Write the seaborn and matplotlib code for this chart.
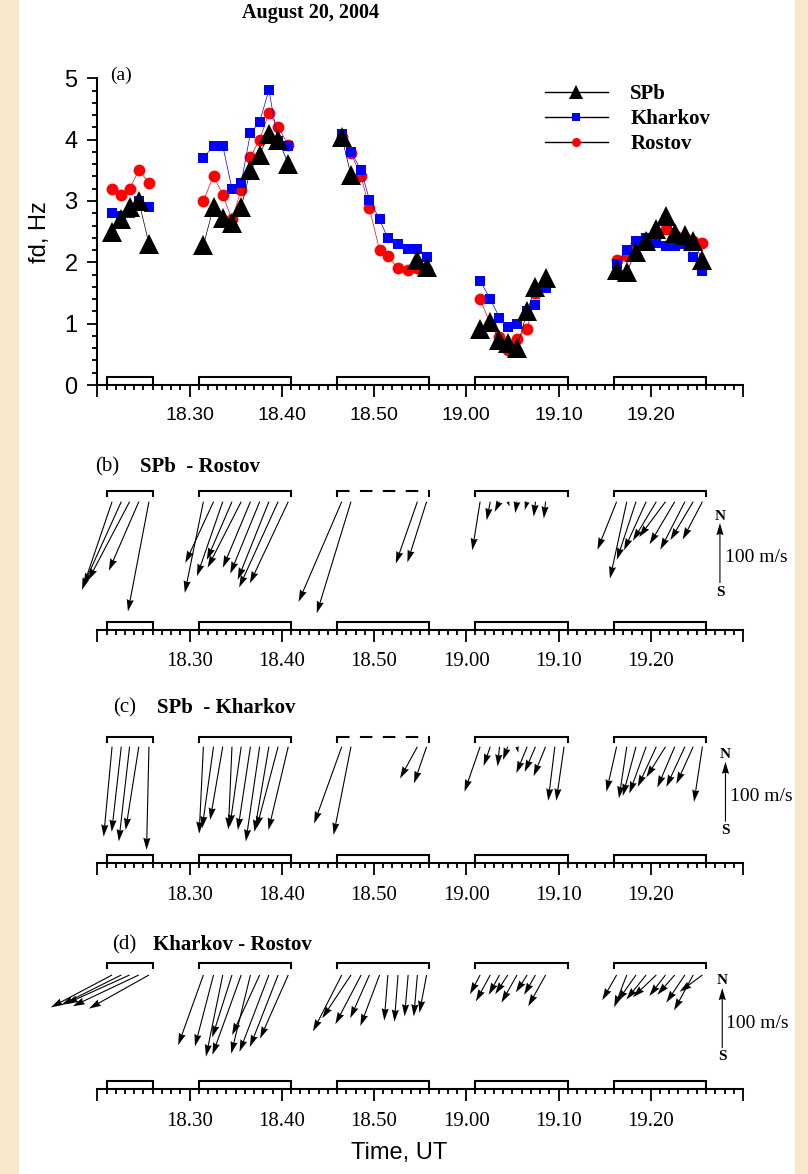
import matplotlib

matplotlib.use("Agg")
import matplotlib.pyplot as plt
import numpy as np
import pandas as pd
import seaborn as sns
from matplotlib.lines import Line2D
from matplotlib.patches import Rectangle
from matplotlib.ticker import FuncFormatter, MultipleLocator

nan = np.nan

# sounding times, minutes after 18:00 UT (five sessions)
TIME = [21.6, 22.6, 23.5, 24.5, 25.6,
        31.5, 32.6, 33.6, 34.6, 35.6, 36.6, 37.6, 38.6, 39.6, 40.7,
        46.5, 47.5, 48.6, 49.5, 50.6, 51.5, 52.6, 53.7, 54.7, 55.7,
        61.5, 62.6, 63.6, 64.5, 65.5, 66.6, 67.5, 68.6, 69.6, 70.6,
        76.3, 77.4, 78.4, 79.5, 80.6, 81.6, 82.6, 83.7, 84.6, 85.6]
SESSIONS = [(21, 26), (31, 41), (46, 56), (61, 71), (76, 86)]

# Doppler shift fd, Hz
FD_SPB = [2.5, 2.7, 2.9, 3.0, 2.3,
          2.28, 2.9, 2.72, 2.64, 2.9, 3.5, 3.75, 4.1, 4.0, 3.61,
          4.05, 3.42, nan, nan, nan, nan, nan, nan, 2.04, 1.93,
          0.92, 1.03, 0.73, 0.68, 0.61, 1.2, 1.6, 1.74, nan, nan,
          1.88, 1.85, 2.17, 2.34, 2.55, 2.75, 2.47, 2.45, 2.34, 2.04]
FD_KHARKOV = [2.8, 2.75, 2.8, 3.0, 2.9,
              3.7, 3.9, 3.9, 3.2, 3.29, 4.11, 4.29, 4.81, 3.97, 3.9,
              4.1, 3.8, 3.5, 3.02, 2.7, 2.39, 2.3, 2.21, 2.21, 2.09,
              1.7, 1.4, 1.1, 0.95, 1.0, 1.2, 1.3, 1.58, nan, nan,
              1.98, 2.2, 2.34, 2.4, 2.32, 2.27, 2.26, 2.3, 2.08, 1.86]
FD_ROSTOV = [3.2, 3.1, 3.2, 3.5, 3.3,
             3.0, 3.41, 3.1, 2.7, 3.18, 3.72, 4.0, 4.43, 4.21, 3.91,
             4.05, 3.78, 3.4, 2.88, 2.2, 2.1, 1.9, 1.88, 1.9, 1.88,
             1.4, 1.0, 0.79, 0.57, 0.75, 0.91, 1.5, 1.65, nan, nan,
             2.04, 2.1, 2.3, 2.4, 2.45, 2.55, 2.45, 2.4, 2.35, 2.31]

# drift velocity (east, north components), m/s
U_SR = [-50, -63, -69, -50, -35,
        -31, -47, -43, -42, -56, -46, -49, -52, -65, -64,
        -72, -57, nan, nan, nan, nan, nan, nan, -36, -32,
        -13, -6, -8, 3, -3, -4, -3, -3, nan, nan,
        -32, -28, -32, -37, -39, -44, -42, -41, -38, -33]
V_SR = [-147, -139, -131, -115, -183,
        -152, -102, -124, -97, -110, -110, -120, -130, -143, -136,
        -167, -186, nan, nan, nan, nan, nan, nan, -103, -101,
        -81, -31, -17, -8, -19, -14, -25, -28, nan, nan,
        -80, -128, -97, -81, -65, -59, -71, -80, -64, -63]
U_SK = [-14, -16, -18, -22, -4,
        -7, -19, -21, -6, -19, -21, -23, -24, -36, -33,
        -46, -29, nan, nan, nan, nan, nan, nan, -29, -21,
        -26, -11, -3, -8, 2, -18, -18, -20, -11, -13,
        -17, -13, -22, -28, -31, -32, -29, -31, -28, -14]
V_SK = [-150, -142, -158, -139, -172,
        -145, -136, -122, -138, -133, -139, -158, -142, -136, -139,
        -128, -147, nan, nan, nan, nan, nan, nan, -53, -61,
        -75, -32, -33, -22, -10, -44, -42, -49, -90, -90,
        -75, -86, -82, -78, -67, -51, -68, -67, -62, -92]
U_KR = [-102, -100, -106, -110, -100,
        -42, -31, -28, -33, -48, -32, -46, -49, -47, -47,
        -48, -48, -43, -32, -32, -6, -6, -6, -6, -12,
        -17, -24, -18, -21, -26, -19, -19, -29, nan, nan,
        -24, -21, -31, -33, -39, -27, -29, -31, -32, -38]
V_KR = [-54, -50, -48, -52, -56,
        -117, -119, -136, -104, -133, -131, -100, -128, -120, -106,
        -94, -72, -82, -72, -85, -76, -78, -69, -69, -63,
        -32, -44, -33, -32, -46, -29, -33, -52, nan, nan,
        -42, -54, -44, -41, -37, -35, -33, -46, -59, -28]

SANS = "Liberation Sans"
SERIF = "Liberation Serif"
plt.rcParams["font.family"] = [SERIF, "DejaVu Serif"]

W, H = 808, 1174
X0, X1 = 97.3, 743.0  # pixel extent of the time axis (18:20 .. 19:30)
BEIGE = "#f8e9cc"


def fx(px):
    return px / W


def fy(py):
    return 1 - py / H


def time_label(m, _):
    m = int(round(m))
    if m < 25 or m > 85:
        return ""
    return f"{18 + m // 60}.{m % 60:02d}"


def time_axis(ax, family, size):
    ax.set_xlim(20, 90)
    ax.xaxis.set_major_locator(MultipleLocator(10))
    ax.xaxis.set_minor_locator(MultipleLocator(1))
    ax.xaxis.set_major_formatter(FuncFormatter(time_label))
    ax.tick_params(axis="x", which="major", direction="out", length=8.6, width=1.3,
                   pad=7.5, labelsize=size, labelfontfamily=family)
    ax.tick_params(axis="x", which="minor", direction="out", length=3.8, width=1.3)
    ax.spines["bottom"].set_linewidth(1.5)


def low_brackets(ax, height_px):
    tr = ax.get_xaxis_transform()
    frac = 8 / height_px
    for a, b in SESSIONS:
        ax.plot([a, a, b, b], [0, frac, frac, 0], color="black", lw=1.5,
                transform=tr, clip_on=False, solid_joinstyle="miter")


fig = plt.figure(figsize=(W / 100, H / 100), dpi=100, facecolor="white")
fig.add_artist(Rectangle((0, 0), fx(18), 1, transform=fig.transFigure, color=BEIGE, zorder=-5))
fig.add_artist(Rectangle((fx(795), 0), 1, 1, transform=fig.transFigure, color=BEIGE, zorder=-5))

# ---- (a) Doppler shift ----
ax_a = fig.add_axes([fx(X0), fy(385), fx(X1) - fx(X0), (385 - 78.3) / H])
ax_a.patch.set_alpha(0)
stations = [
    ("Rostov", FD_ROSTOV, "#ff0000", "o", 8.5),
    ("Kharkov", FD_KHARKOV, "#0000ff", "s", 6.5),
    ("SPb", FD_SPB, "black", "^", 14),
]
for name, fd, color, marker, ms in stations:
    df = pd.DataFrame({"time": TIME, "fd": fd})
    df["segment"] = (df["fd"].isna() | (df["time"].diff() > 2)).cumsum()
    df = df.dropna()
    sns.lineplot(data=df, x="time", y="fd", units="segment", estimator=None, sort=False,
                 color=color, linewidth=0.5, marker=marker, markersize=ms,
                 markeredgewidth=0, legend=False, ax=ax_a)

ax_a.set_ylim(0, 5)
ax_a.yaxis.set_major_locator(MultipleLocator(1))
ax_a.yaxis.set_minor_locator(MultipleLocator(0.2))
ax_a.tick_params(axis="y", which="major", direction="out", length=7.2, width=1.3,
                 pad=7, labelsize=17, labelfontfamily=SANS)
ax_a.tick_params(axis="y", which="minor", direction="out", length=3.6, width=1.3)
time_axis(ax_a, SANS, 14)
ax_a.spines["left"].set_linewidth(1.5)
ax_a.spines["top"].set_visible(False)
ax_a.spines["right"].set_visible(False)
ax_a.set_xlabel("")
ax_a.set_ylabel("")
low_brackets(ax_a, 385 - 78.3)

handles = [
    Line2D([], [], color="black", lw=1, marker="^", ms=10, mfc="black", mew=0),
    Line2D([], [], color="black", lw=1, marker="s", ms=6, mfc="#0000ff", mew=0),
    Line2D([], [], color="black", lw=1, marker="o", ms=6.5, mfc="#ff0000", mew=0),
]
fig.legend(handles, ["SPb", "Kharkov", "Rostov"], loc="upper left",
           bbox_to_anchor=(fx(545), fy(84)), bbox_transform=fig.transFigure,
           frameon=False, handlelength=3.0, handletextpad=1.1, labelspacing=0.25,
           borderpad=0, borderaxespad=0,
           prop={"family": SERIF, "weight": "bold", "size": 15})

fig.text(fx(310), fy(13), "August 20, 2004", ha="center", va="center",
         fontsize=14.5, fontweight="bold", family=SERIF)
fig.text(fx(110), fy(75), "(a)", ha="left", va="center", fontsize=14, family=SERIF)
fig.text(fx(40), fy(232), "fd, Hz", rotation=90, ha="center", va="center",
         fontsize=17, family=SANS)
fig.text(fx(399), fy(1153), "Time, UT", ha="center", va="center", fontsize=17, family=SANS)

# ---- (b)-(d) drift velocity vectors ----
QUIVER = dict(angles="uv", scale_units="inches", scale=100 / 0.6, units="dots",
              width=1.1, headwidth=6.5, headlength=11, headaxislength=10,
              color="black", clip_on=False, zorder=3)

PANELS = [
    dict(label="(b)", title="SPb  - Rostov", u=U_SR, v=V_SR, axis=630, top=486,
         tail=501.7, bracket=490.7, dashed=True, title_y=466.7, label_x=95,
         title_x=140, scale_x=87.5, scale_base=583, text_x=88.0),
    dict(label="(c)", title="SPb  - Kharkov", u=U_SK, v=V_SK, axis=863.3, top=733,
         tail=746.7, bracket=736.7, dashed=True, title_y=708, label_x=113,
         title_x=156.7, scale_x=88.1, scale_base=821.7, text_x=88.6),
    dict(label="(d)", title="Kharkov - Rostov", u=U_KR, v=V_KR, axis=1089.3, top=960,
         tail=975, bracket=963.3, dashed=False, title_y=945, label_x=111.7,
         title_x=153, scale_x=87.75, scale_base=1048, text_x=88.2),
]

t = np.asarray(TIME)
for p in PANELS:
    h = p["axis"] - p["top"]
    ax = fig.add_axes([fx(X0), fy(p["axis"]), fx(X1) - fx(X0), h / H])
    ax.patch.set_alpha(0)
    ax.set_ylim(0, h)
    ax.set_yticks([])
    for side, spine in ax.spines.items():
        spine.set_visible(side == "bottom")
    time_axis(ax, SERIF, 15)
    low_brackets(ax, h)

    ytop = p["axis"] - p["bracket"]
    for i, (a, b) in enumerate(SESSIONS):
        if p["dashed"] and i == 2:
            ax.plot([a, a], [ytop - 5, ytop], color="black", lw=1.5, clip_on=False)
            ax.plot([b, b], [ytop - 5, ytop], color="black", lw=1.5, clip_on=False)
            ax.plot([a, b], [ytop, ytop], color="black", lw=1.5, ls=(0, (6, 5)), clip_on=False)
        else:
            ax.plot([a, a, b, b], [ytop - 5, ytop, ytop, ytop - 5], color="black", lw=1.5,
                    clip_on=False, solid_joinstyle="miter")

    u = np.asarray(p["u"], float)
    v = np.asarray(p["v"], float)
    ok = np.isfinite(u) & np.isfinite(v)
    ax.quiver(t[ok], np.full(ok.sum(), p["axis"] - p["tail"]), u[ok], v[ok], **QUIVER)

    base = p["axis"] - p["scale_base"]
    ax.quiver([p["scale_x"]], [base], [0], [100], **QUIVER)
    ax.text(p["scale_x"], base + 67, "N", ha="center", va="center", fontsize=11,
            fontweight="bold", family=SERIF)
    ax.text(p["scale_x"], base - 9, "S", ha="center", va="center", fontsize=11,
            fontweight="bold", family=SERIF)
    ax.text(p["text_x"], base + 25, "100 m/s", ha="left", va="center", fontsize=14,
            family=SERIF)

    fig.text(fx(p["label_x"]), fy(p["title_y"]), p["label"], ha="left", va="center",
             fontsize=15, family=SERIF)
    fig.text(fx(p["title_x"]), fy(p["title_y"]), p["title"], ha="left", va="center",
             fontsize=15, fontweight="bold", family=SERIF)

fig.savefig("out.png", dpi=100, facecolor=fig.get_facecolor())
